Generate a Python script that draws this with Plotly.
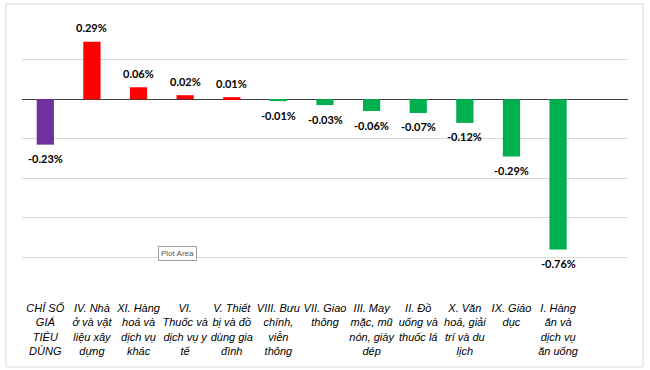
import plotly.graph_objects as go

categories = [
    "CHỈ SỐ<br>GIÁ<br>TIÊU<br>DÙNG",
    "IV. Nhà<br>ở và vật<br>liệu xây<br>dựng",
    "XI. Hàng<br>hoá và<br>dịch vụ<br>khác",
    "VI.<br>Thuốc và<br>dịch vụ y<br>tế",
    "V. Thiết<br>bị và đồ<br>dùng gia<br>đình",
    "VIII. Bưu<br>chính,<br>viễn<br>thông",
    "VII. Giao<br>thông",
    "III. May<br>mặc, mũ<br>nón, giày<br>dép",
    "II. Đồ<br>uống và<br>thuốc lá",
    "X. Văn<br>hoá, giải<br>trí và du<br>lịch",
    "IX. Giáo<br>dục",
    "I. Hàng<br>ăn và<br>dịch vụ<br>ăn uống",
]
values = [-0.23, 0.29, 0.06, 0.02, 0.01, -0.01, -0.03, -0.06, -0.07, -0.12, -0.29, -0.76]
ytick_vals = [-1.0, -0.8, -0.6, -0.4, -0.2, 0.0, 0.2, 0.4]

PURPLE, RED, GREEN = "#7030A0", "#FF0000", "#00B050"
colors = [PURPLE] + [RED if v > 0 else GREEN for v in values[1:]]
labels = [f"{v:.2f}%" for v in values]
xpos = list(range(len(values)))

fig = go.Figure(go.Bar(
    x=xpos, y=values, width=0.37,
    marker=dict(color=colors, line=dict(width=0)),
    hoverinfo="skip",
))

W, H = 650, 370
L, R, T, B = 22, 22, 20, 73
pw, ph = W - L - R, H - T - B

def px(x):
    return (x - L) / pw

def py(y):
    return (H - B - y) / ph

annotations = [
    dict(x=xi, y=v, xref="x", yref="y", text=lab, showarrow=False,
         xanchor="center", yanchor="middle", yshift=14 if v > 0 else -14,
         font=dict(family="Lato", size=11, color="black", weight="bold"))
    for xi, v, lab in zip(xpos, values, labels)
]
annotations.append(dict(
    text="Plot Area", xref="paper", yref="paper",
    x=px(177), y=py(253.5), xanchor="center", yanchor="middle", showarrow=False,
    font=dict(family="Liberation Sans", size=8, color="#555555"),
    bgcolor="white", bordercolor="#A0A0A0", borderwidth=1, borderpad=2,
))

fig.update_layout(
    width=W, height=H,
    margin=dict(l=L, r=R, t=T, b=B, autoexpand=False),
    paper_bgcolor="white", plot_bgcolor="white",
    showlegend=False,
    xaxis=dict(
        range=[-0.5, len(values) + 0.5],
        tickvals=xpos, ticktext=categories, tickangle=0, automargin=False,
        tickfont=dict(family="Liberation Sans", size=11, color="black", style="italic"),
        ticklabelstandoff=3,
        showgrid=False, zeroline=False, ticks="", showline=False,
    ),
    yaxis=dict(
        range=[-1.0, 0.4], tickvals=ytick_vals, showticklabels=False, automargin=False,
        showgrid=True, gridcolor="#D9D9D9", gridwidth=1,
        zeroline=True, zerolinecolor="#404040", zerolinewidth=1,
    ),
    shapes=[dict(
        type="rect", xref="paper", yref="paper",
        x0=px(6), x1=px(643), y0=py(367), y1=py(4),
        line=dict(color="#D9D9D9", width=1), fillcolor="rgba(0,0,0,0)",
    )],
    annotations=annotations,
)

fig.write_html(
    "out.html",
    config={"displayModeBar": False},
    post_script="document.body.style.margin='0';document.body.style.overflow='hidden';",
)
